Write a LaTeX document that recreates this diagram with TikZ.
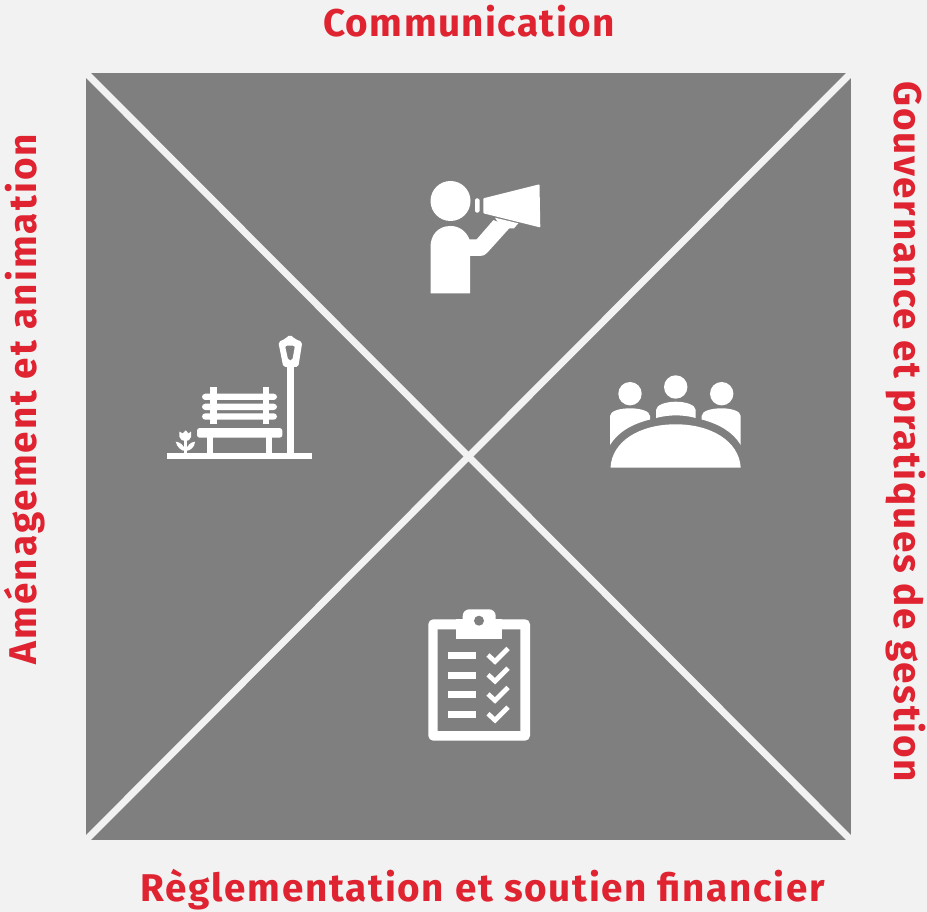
\documentclass[tikz,border=0pt]{standalone}
\usepackage{fontspec}
\setmainfont{Fira Sans}[UprightFont=*,BoldFont=* Bold,LetterSpace=4.4]
\definecolor{bgc}{HTML}{F2F2F2}
\definecolor{panelc}{HTML}{7F7F7F}
\definecolor{redc}{HTML}{DF2330}
\tikzset{
  lab/.style={text=redc,font=\fontsize{29pt}{32pt}\selectfont\bfseries,inner sep=0pt,anchor=center},
  diag/.style={draw=bgc,line width=5.2pt},
  icon/.style={fill=white,draw=none},
  tick/.style={draw=white,line width=3.5pt,line cap=butt,line join=miter},
}
\begin{document}
\begin{tikzpicture}[x=0.75pt,y=-0.75pt]
\useasboundingbox (0,0) rectangle (927,912);
\fill[bgc] (0,0) rectangle (927,912);
\fill[panelc] (86,73) rectangle (851,840);
\coordinate (tl) at (86,73);
\coordinate (tr) at (851,73);
\coordinate (bl) at (86,840);
\coordinate (br) at (851,840);
\draw[diag] (tl) -- (br);
\draw[diag] (tr) -- (bl);
\node[lab] (comm) at (469,21) {\addfontfeature{LetterSpace=3.7}Communication};
\node[lab,rotate=90] (amen) at (24.5,399) {\addfontfeature{LetterSpace=5.4}Aménagement et animation};
\node[lab,rotate=-90] (gouv) at (906,432) {Gouvernance et pratiques de gestion};
\node[lab] (regl) at (483,890) {Règlementation et soutien f{}inancier};
% megaphone person
\fill[icon] (450.5,201) circle (20);
\fill[icon] (430.5,293.3) -- (470,293.3) -- (470,256) -- (480,256) .. controls (483,256) and (485,255) .. (487,253) -- (510,227.5) -- (493.5,220) -- (476.7,239.3) -- (469.5,239.3) .. controls (466,231) and (459,226) .. (450.5,226) .. controls (438,226) and (430.5,235) .. (430.5,247) -- cycle;
\fill[icon,rounded corners=0.6pt] (483.3,198.3) -- (539.5,184.3) -- (540.3,227.5) -- (483.3,213.3) -- cycle;
\fill[icon,rounded corners=1.2pt] (475,198.3) rectangle (479.5,212.7);
\fill[icon] (495,217.7) -- (518.3,223.3) -- (514,228.3) -- (506.7,228.3) -- (498.3,223) -- cycle;
% bench, lamp, flower
\fill[icon] (167.3,452.7) rectangle (311.7,459);
\fill[icon] (287.3,366) rectangle (293.7,453);
\fill[icon,even odd rule,rounded corners=1.5pt] (278.3,342) -- (285,339) -- (290,334.5) -- (295,339) -- (302.3,342) -- (298.3,367) -- (283.3,367) -- cycle (285,345.7) -- (295,345.7) -- (292.3,360.5) -- (288.3,360.5) -- cycle;
\fill[icon,rounded corners=2pt] (197,428) rectangle (282.3,437.7);
\fill[icon] (207,436) rectangle (213.3,453);
\fill[icon] (265.7,436) rectangle (272,453);
\fill[icon,rounded corners=2.5pt] (202,393.7) rectangle (277,400);
\fill[icon,rounded corners=2.5pt] (202,403.7) rectangle (277,410);
\fill[icon,rounded corners=2.5pt] (202,413.3) rectangle (277,419.7);
\fill[icon] (210.3,387) rectangle (216.7,424.3);
\fill[icon] (262.7,387) rectangle (269,424.3);
\fill[icon] (184,440) rectangle (187.3,453);
\fill[icon] (179.3,431.5) -- (182.7,433.5) -- (185.7,430.3) -- (188.5,433.5) -- (191,431.5) -- (191,437) .. controls (190.5,440) and (188,441) .. (185.6,441) .. controls (183,441) and (180,440) .. (179.5,437) -- cycle;
\fill[icon] (175.7,441.7) .. controls (180,442) and (184,445) .. (185.6,451) .. controls (187,445) and (191,442) .. (195,441.7) .. controls (195,447) and (190,451) .. (185.6,451) .. controls (181,451) and (177,447) .. (175.7,441.7) -- cycle;
% meeting
\fill[icon] (630,393.7) circle (11.7);
\fill[icon] (675.7,387) circle (11.7);
\fill[icon] (721.7,393.7) circle (11.7);
\fill[icon] (656,418) -- (656,410) .. controls (656,405) and (666,401.7) .. (675.7,401.7) .. controls (686,401.7) and (695.7,405) .. (695.7,410) -- (695.7,418) .. controls (683,414.5) and (669,414.5) .. (656,418) -- cycle;
\fill[icon] (610,445) -- (610,416) .. controls (610,411) and (620,408.3) .. (630,408.3) .. controls (640,408.3) and (650,411) .. (650,416) -- (650,419.5) .. controls (632,424) and (618,432) .. (610,445) -- cycle;
\fill[icon] (740.7,445) -- (740.7,416) .. controls (740.7,411) and (731,408.3) .. (721.7,408.3) .. controls (711,408.3) and (701.7,411) .. (701.7,416) -- (701.7,419.5) .. controls (719,424) and (733,432) .. (740.7,445) -- cycle;
\fill[icon] (610.5,467.5) .. controls (612,441) and (640,424.3) .. (675.7,424.3) .. controls (711,424.3) and (739,441) .. (740.7,467.5) -- cycle;
% clipboard
\fill[icon,even odd rule] (433.3,619.3) -- (525,619.3) arc[start angle=-90,end angle=0,radius=5] -- (530,735.7) arc[start angle=0,end angle=90,radius=5] -- (433.3,740.7) arc[start angle=90,end angle=180,radius=5] -- (428.3,624.3) arc[start angle=180,end angle=270,radius=5] -- cycle (437.7,629.3) rectangle (520.3,731);
\fill[icon,rounded corners=5pt] (462.7,625) -- (462.7,609.3) -- (495.7,609.3) -- (495.7,625) -- cycle;
\fill[icon] (456,619.3) rectangle (502.3,639);
\fill[panelc] (479,620.7) circle (5);
\foreach \yy/\nm in {652/a,671.7/b,691/c,710.7/d}{
  \fill[icon] (448,\yy) rectangle (476.3,\yy+7);
  \draw[tick] (488,\yy+3) -- (495,\yy+9.5) -- (508,\yy-3.5);
}
\end{tikzpicture}
\end{document}
